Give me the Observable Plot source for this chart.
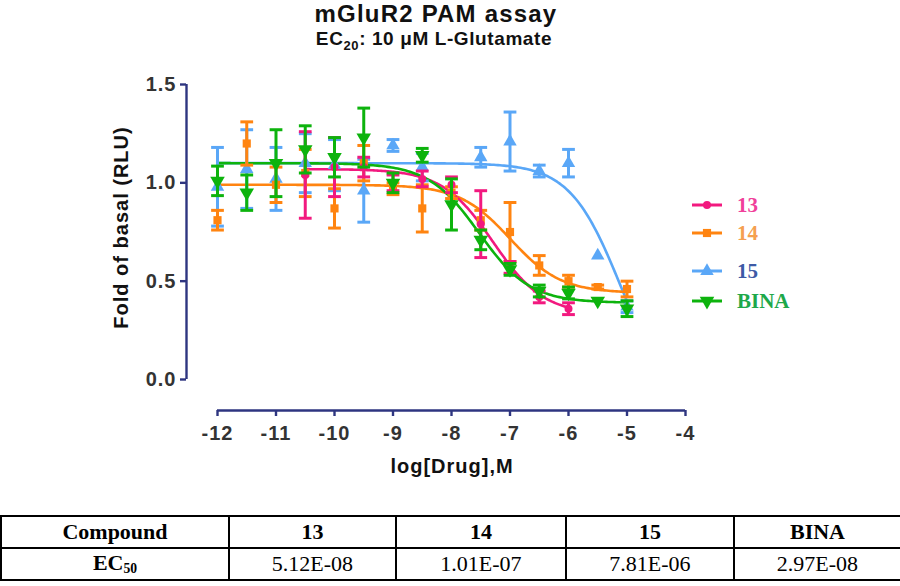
<!DOCTYPE html>
<html><head><meta charset="utf-8">
<script src="https://cdn.jsdelivr.net/npm/d3@7"></script>
<script src="https://cdn.jsdelivr.net/npm/@observablehq/plot@0.6"></script>
<style>
body{margin:0;background:#fff}
#wrap{position:relative;width:900px;height:586px;overflow:hidden;background:#fff}
#chart{position:absolute;left:0;top:0}
#chart svg text{letter-spacing:1px}
#overlay{position:absolute;left:0;top:0;pointer-events:none}
table{position:absolute;left:0;top:515px;border-collapse:collapse;table-layout:fixed;width:900px;
  font-family:"Liberation Serif","Times New Roman",serif;font-size:22px;color:#000}
td{border:2px solid #000;text-align:center;padding:0;line-height:1}
tr{height:32px}
td.h{font-weight:bold}
sub{font-size:0.62em;vertical-align:-0.25em}
</style>
</head>
<body>
<div id="wrap">
  <div id="chart"></div>
</div>
<script>
// ---------- data ----------
const conc = [-12, -11.5, -11, -10.5, -10, -9.5, -9, -8.5, -8, -7.5, -7, -6.5, -6, -5.5, -5];
const names = ["13", "14", "15", "BINA"];
const mean13   = [null, null, null, 1.04, 1.08, 1.08, 1.00, 1.02, 0.99, 0.79, 0.57, 0.42, 0.36, null, null];
const sem13    = [null, null, null, 0.22, 0.15, 0.05, 0.04, 0.04, 0.04, 0.17, 0.03, 0.03, 0.03, null, null];
const mean14   = [0.81, 1.20, 0.99, 1.05, 0.87, 1.10, 0.97, 0.87, 0.95, 0.81, 0.75, 0.58, 0.50, 0.47, 0.46];
const sem14    = [0.05, 0.11, 0.09, 0.12, 0.10, 0.09, 0.03, 0.12, 0.03, 0.05, 0.15, 0.05, 0.03, 0.01, 0.04];
const mean15   = [0.98, 1.07, 1.02, 1.10, 1.09, 0.96, 1.19, 1.08, null, 1.13, 1.21, 1.06, 1.10, 0.63, 0.37];
const sem15    = [0.20, 0.20, 0.16, 0.15, 0.13, 0.16, 0.03, 0.07, null, 0.05, 0.15, 0.03, 0.07, 0.00, 0.03];
const meanBINA = [1.01, 0.95, 1.10, 1.17, 1.13, 1.23, 1.00, 1.14, 0.89, 0.71, 0.56, 0.45, 0.44, 0.40, 0.36];
const semBINA  = [0.075, 0.09, 0.17, 0.12, 0.10, 0.15, 0.05, 0.035, 0.13, 0.05, 0.03, 0.03, 0.03, 0.00, 0.04];

// fitted sigmoid parameters (EC50 from the table)
const ec50Values = [5.12e-8, 1.01e-7, 7.81e-6, 2.97e-8];
const ec50Labels = ["5.12E-08", "1.01E-07", "7.81E-06", "2.97E-08"];
const fitTop    = [1.07, 0.99, 1.10, 1.10];
const fitBottom = [0.33, 0.44, -0.15, 0.39];
const fitHill   = [1, 1, 1, 1];
const fitStart  = [-10.5, -12, -12, -12];
const fitEnd    = [-6, -5, -5, -5];

const xTicks = [-12, -11, -10, -9, -8, -7, -6, -5, -4];
const yTicks = [0, 0.5, 1.0, 1.5];

const titleText = "mGluR2 PAM assay";
const xLabel = "log[Drug],M";
const yLabel = "Fold of basal (RLU)";

// ---------- styles ----------
const seriesColors = ["#f2197f", "#ff8410", "#5aa7f7", "#0db30d"];
const legendTextColors = ["#f0409a", "#f5a050", "#3d5aa6", "#1ea84a"];
const navy = "#2e3580";
const sansFont = "'Liberation Sans', Arial, Helvetica, sans-serif";

const means = [mean13, mean14, mean15, meanBINA];
const sems = [sem13, sem14, sem15, semBINA];

// custom symbols
const capSymbol = {draw(ctx, size) { const h = Math.sqrt(size) / 2; ctx.moveTo(-h, 0); ctx.lineTo(h, 0); }};
const triDown = {draw(ctx, size) {
  const s = Math.sqrt(size * 4 / Math.sqrt(3)), h = s * Math.sqrt(3) / 2;
  ctx.moveTo(-s / 2, -h / 3); ctx.lineTo(s / 2, -h / 3); ctx.lineTo(0, 2 * h / 3); ctx.closePath();
}};
const symbols = ["circle", "square", "triangle", triDown];
const symbolR = [4, 4.6, 5, 5.4];

// build point tables
const pointSets = names.map((n, i) => conc.map((x, j) => ({
  x, y: means[i][j], lo: means[i][j] - sems[i][j], hi: means[i][j] + sems[i][j], e: sems[i][j]
})).filter(d => d.y != null));

const fitSets = names.map((n, i) => {
  const lec = Math.log10(ec50Values[i]);
  const pts = [];
  const steps = 200;
  for (let k = 0; k <= steps; k++) {
    const x = fitStart[i] + (fitEnd[i] - fitStart[i]) * k / steps;
    const y = fitBottom[i] + (fitTop[i] - fitBottom[i]) / (1 + Math.pow(10, (x - lec) * fitHill[i]));
    pts.push({x, y});
  }
  return pts;
});

const order = [2, 1, 0, 3];
const dataMarks = [];
for (const i of order) {
  dataMarks.push(Plot.line(fitSets[i], {x: "x", y: "y", stroke: seriesColors[i], strokeWidth: 2.6}));
}
for (const i of order) {
  const withErr = pointSets[i].filter(d => d.e > 0);
  dataMarks.push(Plot.ruleX(withErr, {x: "x", y1: "lo", y2: "hi", stroke: seriesColors[i], strokeWidth: 3}));
  dataMarks.push(Plot.dot(withErr, {x: "x", y: "hi", symbol: capSymbol, r: 7.2, stroke: seriesColors[i], strokeWidth: 3, fill: "none"}));
  dataMarks.push(Plot.dot(withErr, {x: "x", y: "lo", symbol: capSymbol, r: 7.2, stroke: seriesColors[i], strokeWidth: 3, fill: "none"}));
  dataMarks.push(Plot.dot(pointSets[i], {x: "x", y: "y", symbol: symbols[i], r: symbolR[i], fill: seriesColors[i], stroke: "none"}));
}

const chart = Plot.plot({
  width: 900,
  height: 500,
  marginLeft: 186,
  marginRight: 215,
  marginTop: 84,
  marginBottom: 90,
  x: {domain: [-12, -4], insetLeft: 31},
  y: {domain: [0, 1.5], insetBottom: 31},
  style: {fontFamily: sansFont, background: "transparent", overflow: "visible"},
  marks: [
    Plot.ruleX([-12], {y1: 0, y2: 1.5, dx: -31, stroke: navy, strokeWidth: 2.4}),
    Plot.ruleY([0], {x1: -12, x2: -4, dy: 31, stroke: navy, strokeWidth: 2.4}),
    Plot.axisY({ticks: yTicks, tickFormat: d => d.toFixed(1), tickSize: 6, tickPadding: 4,
      stroke: navy, strokeWidth: 2.4, fill: "#333", fontSize: 20, fontWeight: "bold", label: null}),
    Plot.axisX({ticks: xTicks, tickFormat: d => String(d), tickSize: 6, tickPadding: 9,
      stroke: navy, strokeWidth: 2.4, fill: "#333", fontSize: 20, fontWeight: "bold", label: null}),
    Plot.text([yLabel], {frameAnchor: "left", rotate: -90, dx: -73, dy: -20, lineAnchor: "top",
      textAnchor: "middle", fontSize: 20, fontWeight: "bold", fill: "#111"}),
    Plot.text([xLabel], {frameAnchor: "bottom", dx: 16, dy: 48, lineAnchor: "top",
      textAnchor: "middle", fontSize: 20, fontWeight: "bold", fill: "#111"}),
    ...dataMarks
  ]
});
document.getElementById("chart").appendChild(chart);

// ---------- title + legend overlay ----------
const ov = d3.select("#wrap").append("svg").attr("id", "overlay").attr("width", 900).attr("height", 586);
ov.append("text").attr("x", 436).attr("y", 22).attr("text-anchor", "middle")
  .style("font-family", sansFont).style("font-weight", "bold").style("font-size", "24px")
  .style("letter-spacing", "1.2px").attr("fill", "#111").text(titleText);
const sub = ov.append("text").attr("x", 434).attr("y", 45).attr("text-anchor", "middle")
  .style("font-family", sansFont).style("font-weight", "bold").style("font-size", "19px")
  .style("letter-spacing", "0.6px").attr("fill", "#111");
sub.append("tspan").text("EC");
sub.append("tspan").attr("dy", 5).style("font-size", "13px").text("20");
sub.append("tspan").attr("dy", -5).text(": 10 \u03BCM L-Glutamate");

const legendY = [205, 233, 271, 301];
names.forEach((n, i) => {
  const g = ov.append("g").attr("transform", `translate(0,${legendY[i]})`);
  g.append("line").attr("x1", 692).attr("x2", 722).attr("y1", 0).attr("y2", 0)
    .attr("stroke", seriesColors[i]).attr("stroke-width", 3);
  const sym = typeof symbols[i] === "string"
    ? {circle: d3.symbolCircle, square: d3.symbolSquare, triangle: d3.symbolTriangle}[symbols[i]]
    : symbols[i];
  g.append("path").attr("transform", "translate(707,0)")
    .attr("d", d3.symbol(sym, Math.PI * symbolR[i] * symbolR[i])())
    .attr("fill", seriesColors[i]);
  g.append("text").attr("x", 737).attr("y", 0).attr("dy", "0.35em")
    .style("font-family", "'Liberation Serif','Times New Roman',serif").style("font-weight", "bold")
    .style("font-size", "21px").attr("fill", legendTextColors[i]).text(n);
});

// ---------- EC50 table ----------
const table = d3.select("#wrap").append("table");
const cg = table.append("colgroup");
[228, 167, 170, 168, 167].forEach(w => cg.append("col").style("width", w + "px"));
const r1 = table.append("tr");
r1.append("td").attr("class", "h").text("Compound");
names.forEach(n => r1.append("td").attr("class", "h").text(n));
const r2 = table.append("tr");
r2.append("td").attr("class", "h").html("EC<sub>50</sub>");
ec50Labels.forEach(v => r2.append("td").text(v));
</script>
</body></html>
